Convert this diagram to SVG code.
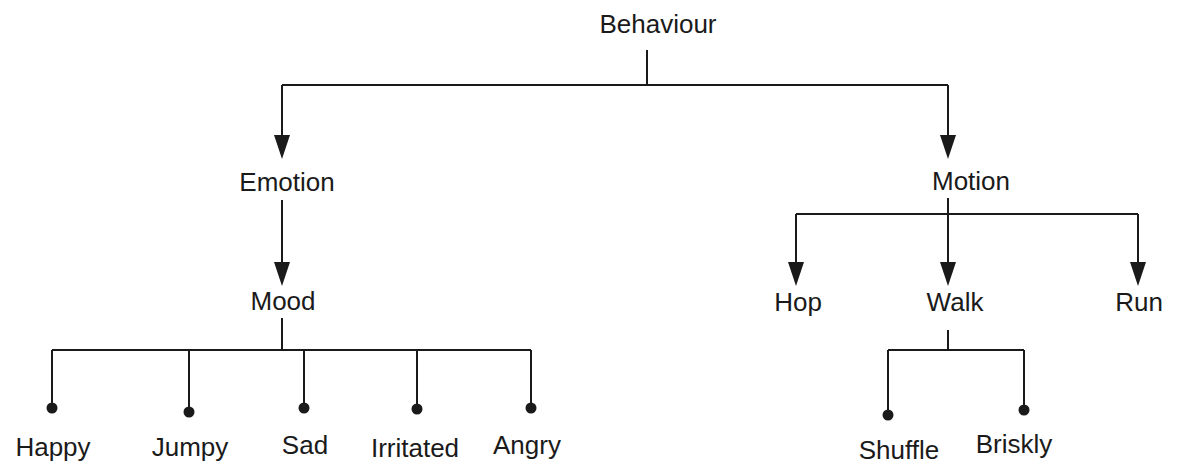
<svg xmlns="http://www.w3.org/2000/svg" width="1177" height="468" viewBox="0 0 1177 468">
<defs>
<style>
text{font-family:"Liberation Sans",Arial,sans-serif;font-size:26px;fill:#1a1a1a;text-anchor:middle}
.c{stroke:#1a1a1a;stroke-width:2;fill:none}
.h{fill:#1a1a1a}
</style>
</defs>
<rect width="1177" height="468" fill="#ffffff"/>
<g id="connectors">
<path class="c" d="M647,50 V85 M282,85 H948"/>
<line class="c" x1="282" y1="85" x2="282" y2="136"/>
<path class="h" d="M274,135 H290 L282,159 Z"/>
<line class="c" x1="948" y1="85" x2="948" y2="136"/>
<path class="h" d="M940,135 H956 L948,159 Z"/>
<line class="c" x1="282" y1="200" x2="282" y2="263"/>
<path class="h" d="M274,262 H290 L282,286 Z"/>
<path class="c" d="M282,318 V350 M52,350 H531 M52,350 V408 M189,350 V412 M304,350 V408 M417,350 V409 M531,350 V408"/>
<circle class="h" cx="52" cy="408" r="5.5"/>
<circle class="h" cx="189" cy="412" r="5.5"/>
<circle class="h" cx="304" cy="408" r="5.5"/>
<circle class="h" cx="417" cy="409" r="5.5"/>
<circle class="h" cx="531" cy="408" r="5.5"/>
<path class="c" d="M948,198 V263 M796,214 H1138 M796,214 V263 M1138,214 V263"/>
<path class="h" d="M788,262 H804 L796,286 Z"/>
<path class="h" d="M940,262 H956 L948,286 Z"/>
<path class="h" d="M1130,262 H1146 L1138,286 Z"/>
<path class="c" d="M948,330 V350 M888,350 H1024 M888,350 V415 M1024,350 V410"/>
<circle class="h" cx="888" cy="415" r="5.5"/>
<circle class="h" cx="1024" cy="410" r="5.5"/>
</g>
<g id="n-behaviour"><text x="658" y="33">Behaviour</text></g>
<g id="n-emotion"><text x="287" y="191">Emotion</text></g>
<g id="n-motion"><text x="971" y="190">Motion</text></g>
<g id="n-mood"><text x="283" y="310">Mood</text></g>
<g id="n-hop"><text x="798" y="311">Hop</text></g>
<g id="n-walk"><text x="955" y="311">Walk</text></g>
<g id="n-run"><text x="1139" y="311">Run</text></g>
<g id="n-happy"><text x="53" y="456">Happy</text></g>
<g id="n-jumpy"><text x="190" y="456">Jumpy</text></g>
<g id="n-sad"><text x="305" y="454">Sad</text></g>
<g id="n-irritated"><text x="415" y="457">Irritated</text></g>
<g id="n-angry"><text x="527" y="454">Angry</text></g>
<g id="n-shuffle"><text x="899" y="459">Shuffle</text></g>
<g id="n-briskly"><text x="1014" y="453">Briskly</text></g>
</svg>
